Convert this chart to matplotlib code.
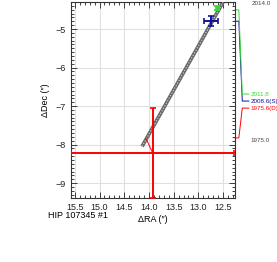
import matplotlib
matplotlib.use("Agg")
import matplotlib.pyplot as plt
from matplotlib.ticker import MultipleLocator

plt.rcParams['font.family'] = ['Liberation Sans', 'DejaVu Sans']

# Data
track_ra = [14.14, 12.50]
track_dec = [-8.05, -4.30]

pt_ra = [13.92, 12.74, 12.62]
pt_dec = [-8.23, -4.79, -4.45]
pt_xerr = [1.65, 0.14, 0.03]
pt_yerr = [1.17, 0.12, 0.05]
pt_colors = ['#ff0000', '#1010a0', '#33dd33']
pt_epochs = [1975.6, 2008.6, 2011.8]
pt_labels = ['1975.6(D)', '2008.6(S)', '2011.8']
label_yfrac = [0.459, 0.495, 0.531]

pred_ra = [14.06]
pred_dec = [-7.84]

epoch_top = 2014.0
epoch_bot = 1975.0
frac_bot = 0.296

xlim = (15.58, 12.26)
ylim = (-9.39, -4.30)

fig = plt.figure(figsize=(2.77, 2.62), dpi=100)
ax = fig.add_axes([0.256, 0.244, 0.592, 0.748])
ax.set_xlim(*xlim)
ax.set_ylim(*ylim)

ax.grid(True, which='major', color='#e0e0e0', lw=0.8, zorder=0)
ax.set_axisbelow(True)

ax.plot(track_ra, track_dec, color='#6a6a6a', lw=2.7, solid_capstyle='butt', zorder=2)
ax.plot(track_ra, track_dec, color='#d8d8d8', lw=0.8, ls=(0, (1, 1.6)), zorder=3)

for r, d, pr, pd in zip(pt_ra[:1], pt_dec[:1], pred_ra, pred_dec):
    ax.plot([pr, r], [pd, d], color='#ff0000', lw=0.7, zorder=4)

for r, d, xe, ye, c in zip(pt_ra, pt_dec, pt_xerr, pt_yerr, pt_colors):
    ax.errorbar(r, d, xerr=xe, yerr=ye, color=c, lw=1.4, capsize=2.2,
                capthick=1.2, fmt='none', zorder=5, clip_on=True)

ax.xaxis.set_major_locator(MultipleLocator(0.5))
ax.xaxis.set_minor_locator(MultipleLocator(0.1))
ax.yaxis.set_major_locator(MultipleLocator(1.0))
ax.yaxis.set_minor_locator(MultipleLocator(0.1))
ax.tick_params(which='both', direction='in', top=True, right=True,
               labelsize=6.5, width=0.6, colors='#222222')
ax.tick_params(which='major', length=4)
ax.tick_params(which='minor', length=2)
for s in ax.spines.values():
    s.set_linewidth(0.8)
    s.set_color('#333333')

ax.set_xlabel('ΔRA (″)', fontsize=6.5, labelpad=2)
ax.set_ylabel('ΔDec (″)', fontsize=6.5, labelpad=4)
fig.text(48 / 277, 1 - 216 / 262, 'HIP 107345 #1', fontsize=6.5, va='center')


def epoch_frac(e):
    return 1 - (epoch_top - e) / (epoch_top - epoch_bot) * (1 - frac_bot)


for e, lab, c, ly in zip(pt_epochs, pt_labels, pt_colors, label_yfrac):
    yf = epoch_frac(e)
    ax.plot([1.0, 1.024, 1.045, 1.085], [yf, yf, ly, ly], color=c, lw=0.7,
            transform=ax.transAxes, clip_on=False)
    ax.text(1.095, ly, lab, color=c, fontsize=4.5, va='center', ha='left',
            transform=ax.transAxes)

ax.text(1.1, epoch_frac(epoch_top) - 0.005, '%.1f' % epoch_top, color='#444444',
        fontsize=4.5, va='center', ha='left', transform=ax.transAxes)
ax.text(1.095, epoch_frac(epoch_bot), '%.1f' % epoch_bot, color='#444444',
        fontsize=4.5, va='center', ha='left', transform=ax.transAxes)

fig.savefig('out.png', dpi=100)
